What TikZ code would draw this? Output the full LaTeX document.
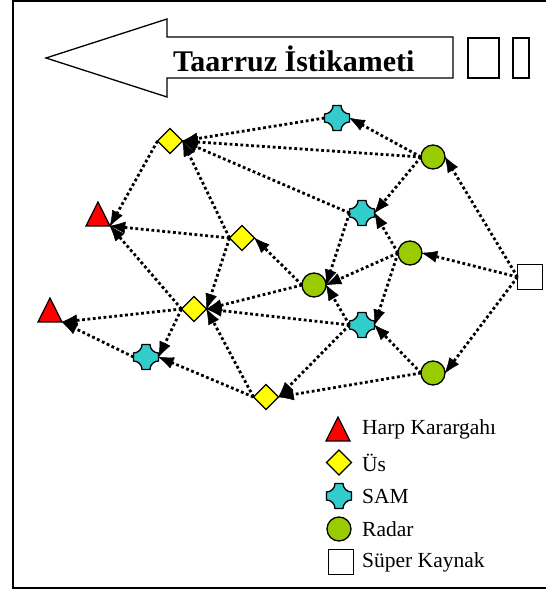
\documentclass[tikz,border=0pt]{standalone}
\usepackage{fontspec}
\setmainfont{Liberation Serif}
\usetikzlibrary{shapes.geometric,arrows.meta}
\definecolor{hqred}{RGB}{255,0,0}
\definecolor{usyel}{RGB}{255,255,0}
\definecolor{samcyan}{RGB}{51,204,204}
\definecolor{radgreen}{RGB}{153,204,0}
\begin{document}
\begin{tikzpicture}[x=1pt,y=1pt,
  shapeline/.style={draw=black, line width=1.3pt},
  hq/.style={rectangle, minimum width=24pt, minimum height=24pt, inner sep=0pt, outer sep=0pt,
    append after command={\pgfextra{\let\hqn\tikzlastnode
      \draw[shapeline, fill=hqred, line join=miter] (\hqn.south west) -- (\hqn.south east) -- (\hqn.north) -- cycle;}}},
  us/.style={diamond, shapeline, fill=usyel, minimum width=25pt, minimum height=25pt, inner sep=0pt, outer sep=0pt},
  sam/.style={rectangle, minimum width=25pt, minimum height=25pt, inner sep=0pt, outer sep=0pt,
    append after command={\pgfextra{\let\samn\tikzlastnode
      \draw[shapeline, fill=samcyan, shift={(\samn.center)}]
        (-4,12.5) -- (4,12.5) arc[start angle=180, end angle=270, radius=8.5]
        -- (12.5,-4) arc[start angle=90, end angle=180, radius=8.5]
        -- (-4,-12.5) arc[start angle=0, end angle=90, radius=8.5]
        -- (-12.5,4) arc[start angle=270, end angle=360, radius=8.5] -- cycle;}}},
  radar/.style={circle, shapeline, fill=radgreen, minimum size=24pt, inner sep=0pt, outer sep=0pt},
  super/.style={rectangle, shapeline, fill=white, minimum size=25pt, inner sep=0pt, outer sep=0pt},
  conn/.style={line width=2.8pt, dash pattern=on 2.8pt off 2.6pt,
    -{Latex[length=16pt,width=12pt,line width=0.5pt,round]}},
  legtext/.style={anchor=west, inner sep=0pt, font=\fontsize{21.5}{24}\selectfont}
]
\useasboundingbox (0,0) rectangle (546,590);
\clip (0,0) rectangle (546,590);
% frame
\draw[line width=2pt] (13,2) rectangle (570,589);
% attack direction arrow
\draw[line width=1.3pt, fill=white] (46,532) -- (167,571) -- (167,553) -- (453,553) -- (453,512) -- (167,512) -- (167,493) -- cycle;
\node[anchor=west, inner sep=0pt, font=\fontsize{30}{34}\selectfont\bfseries] (title) at (173,531) {Taarruz İstikameti};
\draw[line width=1.3pt] (468,512) rectangle (499,552);
\draw[line width=1.3pt] (513,512) rectangle (529,552);
% nodes
\node[us] (u1) at (170,449) {};
\node[hq] (hq1) at (98,376) {};
\node[hq] (hq2) at (50,280) {};
\node[us] (u2) at (242,352) {};
\node[us] (u3) at (194,281) {};
\node[sam] (sbl) at (146,233) {};
\node[us] (u4) at (266,193) {};
\node[sam] (st) at (337,472) {};
\node[radar] (rtr) at (433,433) {};
\node[sam] (sm) at (362,377) {};
\node[radar] (rmr) at (410,337) {};
\node[radar] (rml) at (314,305) {};
\node[sam] (sl) at (362,265) {};
\node[radar] (rbr) at (433,217) {};
\node[super] (sq) at (530,313) {};
% connectors
\foreach \a/\b in {sq/rtr, sq/rmr, sq/rbr, rtr/st, rtr/u1, rtr/sm, st/u1, sm/u1, sm/rml,
  rmr/sm, rmr/rml, rmr/sl, rbr/sl, rbr/u4, sl/rml, sl/u3, sl/u4, rml/u2, rml/u3,
  u2/u1, u2/u3, u4/u3, u4/sbl, u3/sbl}
  \draw[conn] (\a.west) -- (\b.east);
\foreach \a/\b in {u1/hq1, u2/hq1, u3/hq1, u3/hq2, sbl/hq2}
  \draw[conn] (\a.west) -- (\b.south east);
% legend
\node[hq] (lhq) at (338,161) {};
\node[us] (lus) at (339,127.5) {};
\node[sam] (lsam) at (339,94) {};
\node[radar] (lrad) at (339,61) {};
\node[super] (lsq) at (341,28) {};
\node[legtext] (thq) at (362,161) {Harp Karargahı};
\node[legtext] (tus) at (362,127.5) {Üs};
\node[legtext] (tsam) at (362,94) {SAM};
\node[legtext] (trad) at (362,61) {Radar};
\node[legtext] (tsq) at (362,28) {Süper Kaynak};
\end{tikzpicture}
\end{document}
